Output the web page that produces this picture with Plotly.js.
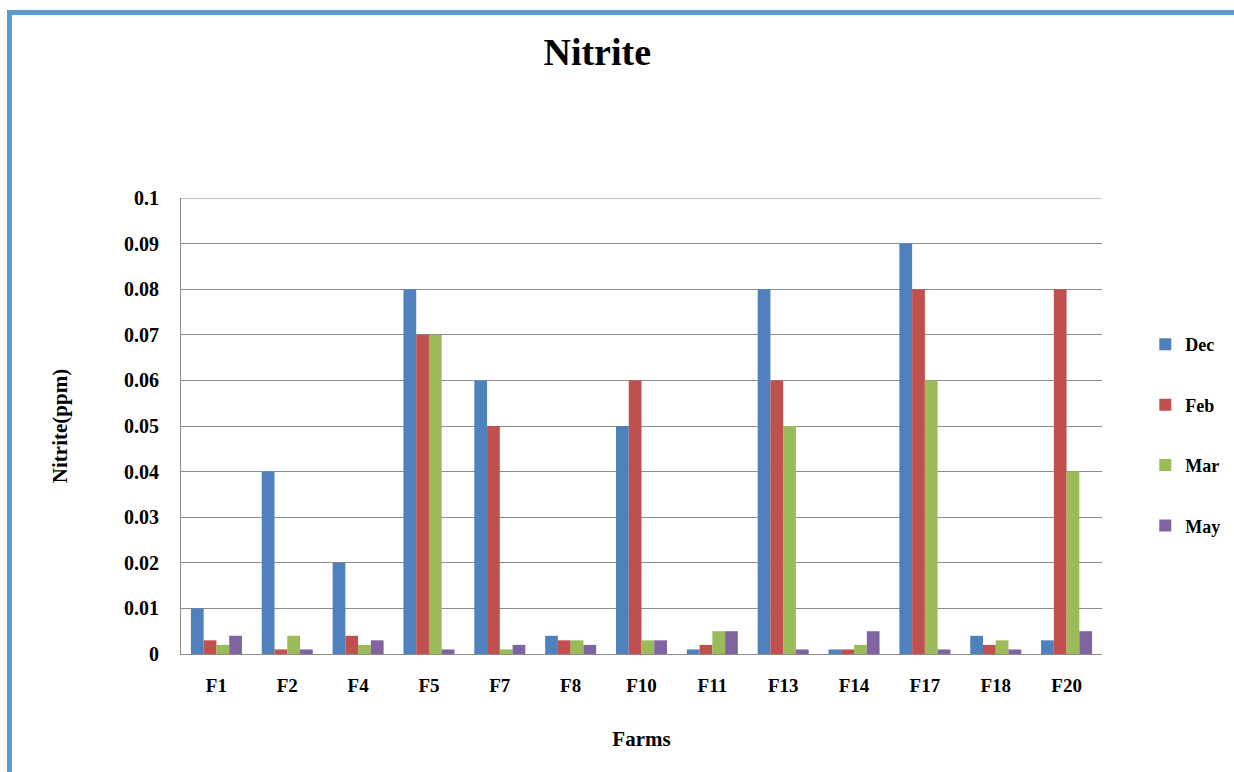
<!DOCTYPE html>
<html>
<head>
<meta charset="utf-8">
<script src="https://cdn.plot.ly/plotly-3.0.1.min.js"></script>
<style>
  html, body { margin: 0; padding: 0; background: #fff; }
  #chart { position: absolute; left: 0; top: 0; width: 1234px; height: 772px; }
  #frame { position: absolute; left: 7px; top: 10px; width: 1227px; height: 762px;
           border-top: 5px solid #5b9bd5; border-left: 5px solid #5b9bd5;
           box-sizing: border-box; pointer-events: none; }
</style>
</head>
<body>
<div id="chart"></div>
<div id="frame"></div>
<script>
const farms = ["F1","F2","F4","F5","F7","F8","F10","F11","F13","F14","F17","F18","F20"];
const dec = [0.010,0.040,0.020,0.080,0.060,0.004,0.050,0.001,0.080,0.001,0.090,0.004,0.003];
const feb = [0.003,0.001,0.004,0.070,0.050,0.003,0.060,0.002,0.060,0.001,0.080,0.002,0.080];
const mar = [0.002,0.004,0.002,0.070,0.001,0.003,0.003,0.005,0.050,0.002,0.060,0.003,0.040];
const may = [0.004,0.001,0.003,0.001,0.002,0.002,0.003,0.005,0.001,0.005,0.001,0.001,0.005];
const yTicks = [0,0.01,0.02,0.03,0.04,0.05,0.06,0.07,0.08,0.09,0.1];
const yTickText = ["0","0.01","0.02","0.03","0.04","0.05","0.06","0.07","0.08","0.09","0.1"];
const yMax = 0.1;

const series = [
  {name: "Dec", y: dec, color: "#4f81bd"},
  {name: "Feb", y: feb, color: "#c0504d"},
  {name: "Mar", y: mar, color: "#9bbb59"},
  {name: "May", y: may, color: "#8064a2"}
];
const traces = series.map(s => ({
  type: "bar", name: s.name, x: farms, y: s.y, legendgroup: s.name,
  marker: {color: s.color, line: {width: 0}}
}));

const font = "Liberation Serif, Times New Roman, serif";
const layout = {
  width: 1234, height: 772,
  margin: {l: 181, r: 132, t: 198, b: 118, autoexpand: false},
  paper_bgcolor: "#fff", plot_bgcolor: "#fff",
  barmode: "group", bargap: 0.28, bargroupgap: 0,
  font: {family: font, color: "#000"},
  title: {text: "<b>Nitrite</b>", font: {family: font, size: 38, color: "#000"},
          x: 0.484, xanchor: "center", y: 0.933, yanchor: "middle"},
  xaxis: {
    type: "category", showgrid: false, zeroline: false,
    showline: true, linecolor: "#8c8c8c", linewidth: 1,
    ticks: "outside", ticklen: 14, tickcolor: "rgba(0,0,0,0)",
    tickfont: {family: font, size: 19, color: "#000", weight: "bold"},
    title: {text: "<b>Farms</b>", font: {family: font, size: 21, color: "#000"}, standoff: 36}
  },
  yaxis: {
    range: [0, yMax], tickvals: yTicks, ticktext: yTickText,
    showgrid: true, gridcolor: "#8c8c8c", gridwidth: 1, zeroline: false,
    showline: true, linecolor: "#8c8c8c", linewidth: 1,
    ticks: "outside", ticklen: 17, tickcolor: "rgba(0,0,0,0)",
    tickfont: {family: font, size: 20, color: "#000", weight: "bold"},
    title: {text: "<b>Nitrite(ppm)</b>", font: {family: font, size: 21, color: "#000"}, standoff: 50}
  },
  shapes: [{type: "line", xref: "paper", x0: 0, x1: 1, yref: "y", y0: yMax, y1: yMax,
            line: {color: "#8c8c8c", width: 1}}],
  legend: {
    x: 1.047, xanchor: "left", y: 0.48, yanchor: "middle",
    font: {family: font, size: 18, color: "#000", weight: "bold"},
    tracegroupgap: 34, itemwidth: 30, bgcolor: "rgba(0,0,0,0)"
  },
  showlegend: true
};

Plotly.newPlot("chart", traces, layout, {displayModeBar: false, staticPlot: true});
</script>
</body>
</html>
